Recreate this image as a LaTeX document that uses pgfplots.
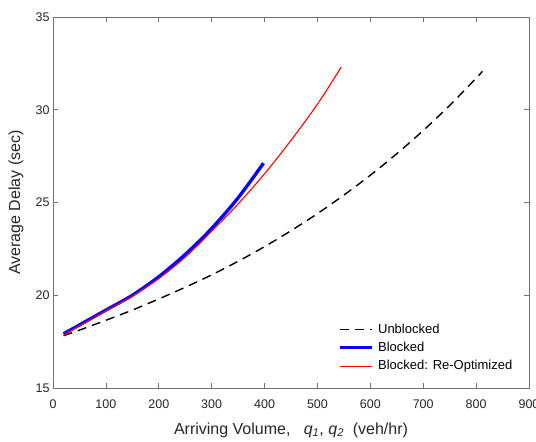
\documentclass[border=0pt]{standalone}
\usepackage{fontspec}
\setmainfont{Liberation Sans}
\usepackage{pgfplots}
\pgfplotsset{compat=1.18}
\definecolor{axgray}{RGB}{38,38,38}

\begin{document}
\begin{tikzpicture}
\useasboundingbox (0,0) rectangle (536bp,442bp);
\begin{axis}[
  at={(53bp,54bp)}, anchor=south west,
  width=476bp, height=371bp, scale only axis,
  xmin=0, xmax=900, ymin=15, ymax=35,
  xtick={0,100,...,900}, ytick={15,20,...,35},
  tick align=inside,
  major tick length=5bp,
  axis line style={black!55, line width=0.6bp},
  every tick/.style={black!55, line width=0.6bp},
  tick label style={font=\fontsize{12.5bp}{15bp}\selectfont, text=axgray},
  xticklabel style={yshift=-8bp},
  /pgf/number format/assume math mode=true,
  label style={font=\fontsize{16bp}{18bp}\selectfont, text=axgray},
  xlabel style={at={(axis description cs:0.5,0)}, anchor=base, yshift=-46bp},
  ylabel style={at={([xshift=-37bp]axis description cs:0,0.5)}, anchor=center},
  xlabel={Arriving Volume,\ \ \ {\itshape q\textsubscript{1}}, {\itshape q\textsubscript{2}}\ \ (veh/hr)},
  ylabel={Average Delay (sec)},
  legend cell align=left,
  legend style={draw=none, fill=none, at={(rel axis cs:0.599,0.183)}, anchor=north west,
    font=\fontsize{13bp}{15bp}\selectfont, inner sep=0pt,
    nodes={text height=10.3bp, text depth=3bp, inner sep=2.5bp},
    /tikz/every odd column/.style={column sep=2bp}},
  legend image code/.code={\draw[#1] plot coordinates {(0bp,0bp) (16bp,0bp) (32bp,0bp)};},
]
% Unblocked
\addplot[black, line width=1.4bp, dash pattern=on 9bp off 6bp, smooth] coordinates {
(20,17.82) (50,18.12) (100,18.65) (150,19.2) (200,19.8) (250,20.43)
(300,21.1) (350,21.83) (400,22.62) (450,23.48) (500,24.4) (550,25.4)
(600,26.47) (650,27.63) (700,28.88) (750,30.23) (800,31.7) (812,32.07)
};
\addlegendentry{Unblocked}
% Blocked
\addplot[blue, line width=3.3bp, smooth] coordinates {
(20,17.92) (50,18.4) (100,19.2) (150,20.0) (200,21.0) (250,22.2)
(300,23.6) (350,25.25) (398,27.12)
};
\addlegendentry{Blocked}
% Blocked: Re-Optimized
\addplot[red, line width=1.1bp, smooth] coordinates {
(20,17.85) (50,18.35) (100,19.15) (150,19.95) (200,20.9) (250,22.05)
(300,23.45) (350,24.92) (400,26.55) (450,28.35) (500,30.3) (545,32.3)
};
\addlegendentry{Blocked: Re-Optimized}
\end{axis}
\end{tikzpicture}
\end{document}
